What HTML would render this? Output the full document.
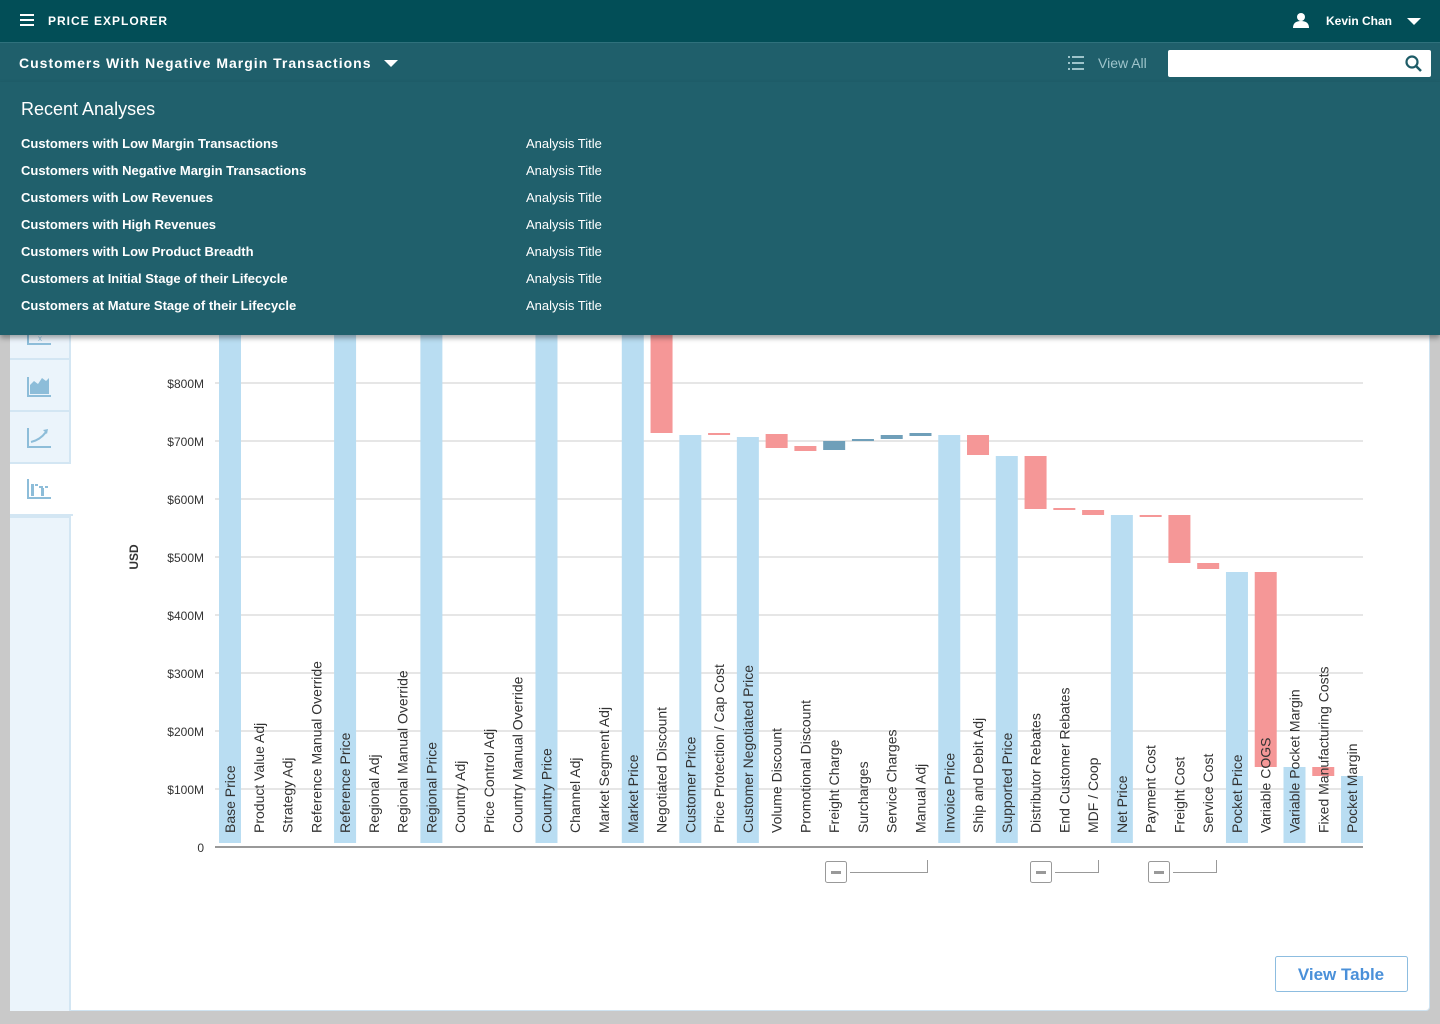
<!DOCTYPE html>
<html><head><meta charset="utf-8"><style>
*{margin:0;padding:0;box-sizing:border-box}
body{width:1440px;height:1024px;background:#c9c9c9;font-family:"Liberation Sans",sans-serif;position:relative;overflow:hidden}
.panel{position:absolute;left:10px;top:60px;width:1420px;height:951px;background:#fff;border-radius:4px;border:1px solid #cfe3f1}
.side{position:absolute;left:10px;top:60px;width:61px;height:951px;background:#ebf4fb;border-right:2px solid #d3e6f3}
.tab{position:absolute;left:0;width:61px;height:52px;border-bottom:2px solid #d3e6f3}
.top{position:absolute;left:0;top:0;width:1440px;height:42px;background:#024e57;color:#fff}
.bar2{position:absolute;left:0;top:42px;width:1440px;height:40px;background:#1f5f6b;border-top:1px solid #2f717c}
.drop{position:absolute;left:0;top:82px;width:1440px;height:253px;background:#20606c;box-shadow:0 3px 5px rgba(0,0,0,.35);color:#fff}
.it{position:absolute;left:21px;font-size:13px;font-weight:bold}
.at{position:absolute;left:526px;font-size:13px}
</style></head><body>
<div class="panel"></div>
<div class="side">
<div class="tab" style="top:248px"></div>
<div class="tab" style="top:300px"></div>
<div class="tab" style="top:352px"></div>
<div class="tab" style="top:404px;background:#fff;width:63px"></div>
<div style="position:absolute;left:0;top:456px;width:61px;border-top:2px solid #d3e6f3"></div>
</div>
<svg style="position:absolute;left:0;top:0" width="1440" height="1024">
<g fill="#8dbdd9">
<rect x="27" y="325" width="2" height="20"/><rect x="27" y="343" width="24" height="2"/><text x="38" y="341" font-size="8" fill="#8dbdd9">x</text>
<rect x="27" y="377" width="2" height="20"/><rect x="27" y="395" width="24" height="2"/>
<path d="M30 394 L30 385 L34 381 L38 384 L42 378 L46 381 L49 378 L49 394Z"/>
<rect x="27" y="428" width="2" height="20"/><rect x="27" y="446" width="24" height="2"/>
<path d="M31 442 Q40 440 46 432" stroke="#8dbdd9" stroke-width="2" fill="none"/><path d="M43 430 L48 429 L47 434Z"/>
<rect x="27" y="479" width="2" height="20"/><rect x="27" y="497" width="24" height="2"/>
<rect x="31" y="484" width="3" height="12"/><rect x="35" y="484" width="3" height="2"/><rect x="39" y="486" width="4" height="2"/><rect x="41" y="488" width="3" height="8"/><rect x="45" y="486" width="3" height="2"/>
</g>
<g stroke="#e6e6e6" stroke-width="2">
<line x1="215" x2="1363" y1="383" y2="383"/><line x1="215" x2="1363" y1="441" y2="441"/><line x1="215" x2="1363" y1="499" y2="499"/><line x1="215" x2="1363" y1="557" y2="557"/><line x1="215" x2="1363" y1="615" y2="615"/><line x1="215" x2="1363" y1="673" y2="673"/><line x1="215" x2="1363" y1="731" y2="731"/><line x1="215" x2="1363" y1="789" y2="789"/>
</g>
<g font-size="12" fill="#333" text-anchor="end">
<text x="204" y="388">$800M</text><text x="204" y="446">$700M</text><text x="204" y="504">$600M</text><text x="204" y="562">$500M</text><text x="204" y="620">$400M</text><text x="204" y="678">$300M</text><text x="204" y="736">$200M</text><text x="204" y="794">$100M</text><text x="204" y="852">0</text>
</g>
<text transform="translate(138,557) rotate(-90)" font-size="12" font-weight="bold" fill="#333" text-anchor="middle">USD</text>
<g id="bars"></g>
<line x1="215" x2="1363" y1="847" y2="847" stroke="#999" stroke-width="2"/>
<g id="labels" font-size="14" fill="#333"></g>
<g fill="#fff" stroke="#999" stroke-width="1">
<rect x="825.5" y="861.5" width="21" height="21" rx="2"/><rect x="1030.5" y="861.5" width="21" height="21" rx="2"/><rect x="1148.5" y="861.5" width="21" height="21" rx="2"/>
</g>
<g fill="#999"><rect x="831" y="871" width="10" height="3"/><rect x="1036" y="871" width="10" height="3"/><rect x="1154" y="871" width="10" height="3"/></g>
<g stroke="#999" fill="none"><path d="M850 872.5H927.5V860"/><path d="M1055 872.5H1098.5V860"/><path d="M1173 872.5H1216.5V860"/></g>
<rect x="1275.5" y="956.5" width="132" height="35" rx="2" fill="#fff" stroke="#8dbde0"/>
<text x="1341" y="980" text-anchor="middle" font-size="17" font-weight="bold" fill="#4a90d9">View Table</text>
</svg>
<div class="top">
<div style="position:absolute;left:20px;top:14px;width:14px;height:2px;background:#fff;box-shadow:0 5px 0 #fff,0 10px 0 #fff"></div>
<div style="position:absolute;left:48px;top:14px;font-size:12px;font-weight:bold;letter-spacing:1px">PRICE EXPLORER</div>
<svg style="position:absolute;left:1293px;top:12px" width="16" height="16"><circle cx="8" cy="5" r="4" fill="#fff"/><path d="M0 16 Q0 9 8 9 Q16 9 16 16Z" fill="#fff"/></svg>
<div style="position:absolute;left:1326px;top:14px;font-size:12px;font-weight:bold">Kevin Chan</div>
<div style="position:absolute;left:1407px;top:18px;border-left:7px solid transparent;border-right:7px solid transparent;border-top:7px solid #fff"></div>
</div>
<div class="bar2">
<div style="position:absolute;left:19px;top:12px;font-size:14px;font-weight:bold;letter-spacing:1px;color:#fff">Customers With Negative Margin Transactions</div>
<div style="position:absolute;left:384px;top:17px;border-left:7px solid transparent;border-right:7px solid transparent;border-top:7px solid #fff"></div>
<svg style="position:absolute;left:1068px;top:12px" width="18" height="16" fill="#9ec4cb"><rect x="0" y="1" width="2" height="2"/><rect x="4" y="1" width="12" height="2"/><rect x="0" y="7" width="2" height="2"/><rect x="4" y="7" width="12" height="2"/><rect x="0" y="13" width="2" height="2"/><rect x="4" y="13" width="12" height="2"/></svg>
<div style="position:absolute;left:1098px;top:12px;font-size:14px;color:#9ec4cb">View All</div>
<div style="position:absolute;left:1168px;top:7px;width:263px;height:27px;background:#fff;border-radius:2px"></div>
<svg style="position:absolute;left:1405px;top:12px" width="18" height="18"><circle cx="7" cy="7" r="5.5" stroke="#1e5c67" stroke-width="2.2" fill="none"/><line x1="11" y1="11" x2="16" y2="16" stroke="#1e5c67" stroke-width="2.5"/></svg>
</div>
<div class="drop">
<div style="position:absolute;left:21px;top:17px;font-size:18px">Recent Analyses</div>
<div class="it" style="top:54px">Customers with Low Margin Transactions</div><div class="at" style="top:54px">Analysis Title</div>
<div class="it" style="top:81px">Customers with Negative Margin Transactions</div><div class="at" style="top:81px">Analysis Title</div>
<div class="it" style="top:108px">Customers with Low Revenues</div><div class="at" style="top:108px">Analysis Title</div>
<div class="it" style="top:135px">Customers with High Revenues</div><div class="at" style="top:135px">Analysis Title</div>
<div class="it" style="top:162px">Customers with Low Product Breadth</div><div class="at" style="top:162px">Analysis Title</div>
<div class="it" style="top:189px">Customers at Initial Stage of their Lifecycle</div><div class="at" style="top:189px">Analysis Title</div>
<div class="it" style="top:216px">Customers at Mature Stage of their Lifecycle</div><div class="at" style="top:216px">Analysis Title</div>
</div>
<script>
var L=["Base Price","Product Value Adj","Strategy Adj","Reference Manual Override","Reference Price","Regional Adj","Regional Manual Override","Regional Price","Country Adj","Price Control Adj","Country Manual Override","Country Price","Channel Adj","Market Segment Adj","Market Price","Negotiated Discount","Customer Price","Price Protection / Cap Cost","Customer Negotiated Price","Volume Discount","Promotional Discount","Freight Charge","Surcharges","Service Charges","Manual Adj","Invoice Price","Ship and Debit Adj","Supported Price","Distributor Rebates","End Customer Rebates","MDF / Coop","Net Price","Payment Cost","Freight Cost","Service Cost","Pocket Price","Variable COGS","Variable Pocket Margin","Fixed Manufacturing Costs","Pocket Margin"];
var B="#b9ddf2",R="#f59797",D="#6f9fb9";
var bars=[[0,330,843,B],[4,330,843,B],[7,330,843,B],[11,330,843,B],[14,330,843,B],[15,330,433,R],[16,435,843,B],[17,433,435,R],[18,437,843,B],[19,434,448,R],[20,446,451,R],[21,441,450,D],[22,439,441,D],[23,435,439,D],[24,433,436,D],[25,435,843,B],[26,435,455,R],[27,456,843,B],[28,456,509,R],[29,508,510,R],[30,510,515,R],[31,515,843,B],[32,515,517,R],[33,515,563,R],[34,563,569,R],[35,572,843,B],[36,572,767,R],[37,767,843,B],[38,767,776,R],[39,776,843,B]];
var ns="http://www.w3.org/2000/svg",g=document.getElementById("bars"),gl=document.getElementById("labels");
function X(i){return 219+i*28.77;}
bars.forEach(function(b){var r=document.createElementNS(ns,"rect");r.setAttribute("x",X(b[0]));r.setAttribute("y",b[1]);r.setAttribute("width",22);r.setAttribute("height",b[2]-b[1]);r.setAttribute("fill",b[3]);g.appendChild(r);});
L.forEach(function(t,i){var e=document.createElementNS(ns,"text");var x=X(i)+11+5;e.setAttribute("transform","translate("+x+",833) rotate(-90)");e.textContent=t;gl.appendChild(e);});
</script>
</body></html>
